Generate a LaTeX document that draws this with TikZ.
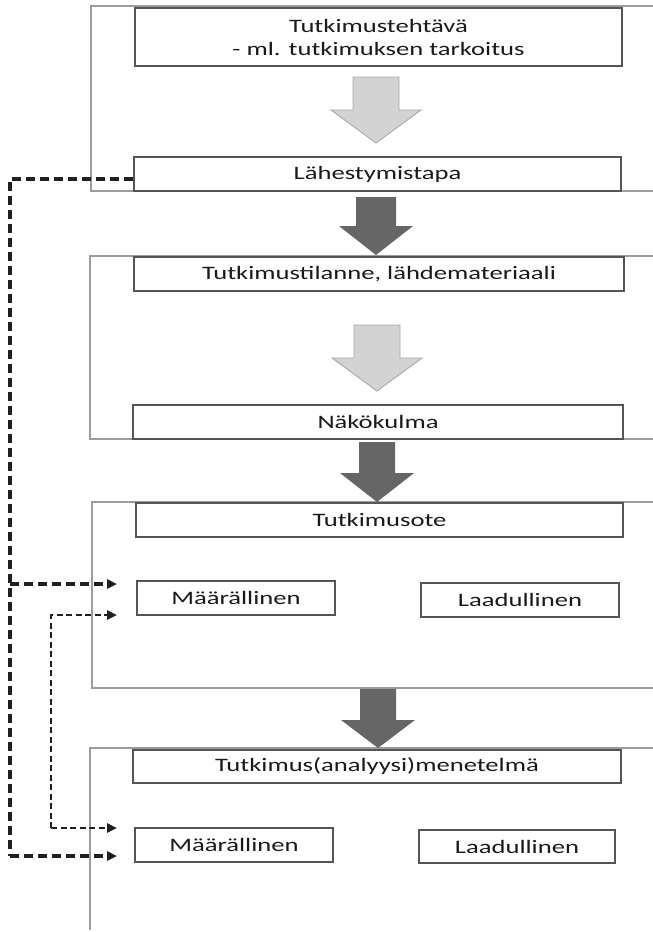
\documentclass[tikz,border=0pt]{standalone}
\usepackage{fontspec}
\setmainfont{Carlito}[FakeStretch=1.4]
\usetikzlibrary{arrows.meta}

\definecolor{framegray}{HTML}{9C9C9C}
\definecolor{boxgray}{HTML}{555555}
\definecolor{lightfill}{HTML}{D3D3D3}
\definecolor{lightedge}{HTML}{A8A8A8}
\definecolor{darkfill}{HTML}{666666}
\definecolor{inkgray}{HTML}{1A1A1A}

% block arrow pointing down: style, centre x, top, neck, tip, half shaft, half head
\newcommand\blkarrow[7]{%
  \path[#1] (#2-#6,#3) -- (#2+#6,#3) -- (#2+#6,#4) -- (#2+#7,#4) -- (#2,#5)
    -- (#2-#7,#4) -- (#2-#6,#4) -- cycle;}

\begin{document}
\begin{tikzpicture}[x=1pt,y=-1pt,
  frame/.style={draw=framegray, line width=1.3pt},
  stepbox/.style={draw=boxgray, line width=1.5pt, fill=white, inner sep=0pt,
    text=inkgray, align=center, font=\fontsize{19}{23}\selectfont},
  lightarrow/.style={fill=lightfill, draw=lightedge, line width=0.9pt},
  darkarrow/.style={fill=darkfill},
  longdash/.style={draw=black!88, line width=3.4pt, dash pattern=on 9pt off 5pt},
  shortdash/.style={draw=black!88, line width=2.7pt, dash pattern=on 6pt off 3.5pt},
  tip/.style={-{Triangle[length=10pt,width=9pt]}}]

\useasboundingbox (0,0) rectangle (653,932);
\fill[white] (0,0) rectangle (653,932);

% open frames around each stage
\draw[frame] (653,6) -- (91,6) -- (91,191) -- (653,191);
\draw[frame] (653,256) -- (90,256) -- (90,439) -- (653,439);
\draw[frame] (653,502) -- (92,502) -- (92,688) -- (653,688);
\draw[frame] (653,748) -- (90,748) -- (90,930);

% block arrows
\blkarrow{lightarrow}{376}{77}{110}{143}{23}{45}
\blkarrow{lightarrow}{377}{325}{358}{391}{23}{45}
\blkarrow{darkarrow}{376}{197}{226}{255}{20}{37}
\blkarrow{darkarrow}{377}{442}{473}{502}{18}{37}
\blkarrow{darkarrow}{378}{689}{720}{748}{18}{37}

% stage boxes
\node[stepbox, minimum width=487, minimum height=58] (task) at (378.5,37)
  {Tutkimustehtävä\\- ml. tutkimuksen tarkoitus};
\node[stepbox, minimum width=487, minimum height=34] (appr) at (377.5,174) {Lähestymistapa};
\node[stepbox, minimum width=490, minimum height=34] (state) at (379,274) {Tutkimustilanne, lähdemateriaali};
\node[stepbox, minimum width=490, minimum height=34] (view) at (378,422) {Näkökulma};
\node[stepbox, minimum width=487, minimum height=34] (grip) at (379.5,520) {Tutkimusote};
\node[stepbox, minimum width=198, minimum height=34] (gripq) at (236,598) {Määrällinen};
\node[stepbox, minimum width=198, minimum height=34] (gripl) at (520,600) {Laadullinen};
\node[stepbox, minimum width=488, minimum height=33] (method) at (377,766.5) {Tutkimus(analyysi)menetelmä};
\node[stepbox, minimum width=198, minimum height=34] (methq) at (234,845) {Määrällinen};
\node[stepbox, minimum width=196, minimum height=33] (methl) at (517,846.5) {Laadullinen};

% dashed links
\coordinate (trunktop) at (10,179);
\coordinate (trunkmid) at (10,584);
\coordinate (trunkbot) at (10,856);
\coordinate (gripin) at (117,584);
\coordinate (methin) at (117,856);
\coordinate (loopin) at (117,615);
\coordinate (loopbot) at (51,828);
\coordinate (loopout) at (117,828);

\draw[longdash] ([yshift=-5pt]appr.west) -- (trunktop) -- (trunkbot);
\draw[longdash, tip] (trunkbot) -- (methin);
\draw[longdash, tip] (trunkmid) -- (gripin);
\draw[shortdash, tip] (loopbot) -- (loopout);
\draw[shortdash, tip] (loopbot) |- (loopin);

\end{tikzpicture}
\end{document}
